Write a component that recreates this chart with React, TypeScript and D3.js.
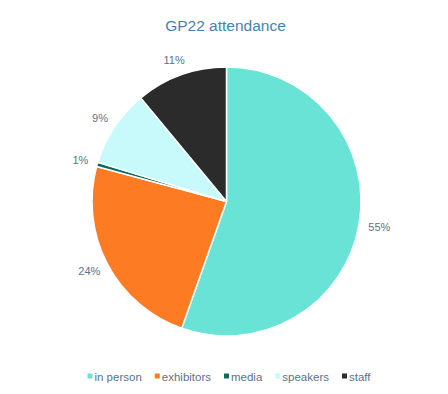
import React, { useEffect, useRef } from "react";
import * as d3 from "d3";

const categories = ["in person", "exhibitors", "media", "speakers", "staff"];
const values = [55.4, 23.8, 0.5, 9.3, 11.0];
const percentLabels = ["55%", "24%", "1%", "9%", "11%"];
const colors = ["#68e3d6", "#fd7b23", "#0b6e5a", "#c8fafc", "#2b2b2b"];
const title = "GP22 attendance";

const W = 448;
const H = 394;

export default function App() {
  const ref = useRef<SVGSVGElement | null>(null);

  useEffect(() => {
    const svg = d3.select(ref.current);
    svg.selectAll("*").remove();

    svg.append("rect").attr("width", W).attr("height", H).attr("fill", "#ffffff");

    svg
      .append("text")
      .attr("x", 225.5)
      .attr("y", 31)
      .attr("text-anchor", "middle")
      .attr("font-family", "Liberation Sans, Arial, sans-serif")
      .attr("font-size", 15.5)
      .attr("fill", "#4a7fb3")
      .text(title);

    const cx = 226.5;
    const cy = 201.5;
    const r = 134.5;

    const data = categories.map((c, i) => ({ c, v: values[i], color: colors[i], lbl: percentLabels[i] }));
    const pie = d3
      .pie<any>()
      .sort(null)
      .value((d: any) => d.v)
      .startAngle(0)
      .endAngle(2 * Math.PI);
    const arcs = pie(data);
    const arc = d3.arc<any>().innerRadius(0).outerRadius(r);

    const g = svg.append("g").attr("transform", `translate(${cx},${cy})`);
    g.selectAll("path")
      .data(arcs)
      .enter()
      .append("path")
      .attr("d", arc as any)
      .attr("fill", (d: any) => d.data.color)
      .attr("stroke", "#ffffff")
      .attr("stroke-width", 1.5)
      .attr("stroke-linejoin", "round");

    const labelR = r + 9.5;
    arcs.forEach((d: any) => {
      const a = (d.startAngle + d.endAngle) / 2;
      const s = Math.sin(a);
      const c = Math.cos(a);
      const t = g
        .append("text")
        .attr("dy", "0.35em")
        .attr("text-anchor", "middle")
        .attr("font-family", "Liberation Sans, Arial, sans-serif")
        .attr("font-size", 11)
        .attr("fill", "#5e7189")
        .text(d.data.lbl);
      const w = (t.node() as SVGTextElement).getComputedTextLength();
      const h = 12;
      const px = s * labelR + (w / 2) * s;
      const py = -c * labelR - (h / 2) * c;
      t.attr("x", px).attr("y", py);
    });

    // legend
    const lg = svg.append("g");
    const items: any[] = [];
    data.forEach((d) => {
      const item = lg.append("g");
      item.append("rect").attr("width", 5).attr("height", 5).attr("fill", d.color).attr("y", -7.5);
      const t = item
        .append("text")
        .attr("x", 7)
        .attr("y", 0)
        .attr("font-family", "Liberation Sans, Arial, sans-serif")
        .attr("font-size", 11.5)
        .attr("fill", "#5e7189")
        .text(d.c);
      const w = (t.node() as SVGTextElement).getComputedTextLength();
      items.push({ item, w: 7 + w });
    });
    const gap = 13;
    const total = items.reduce((s, it) => s + it.w, 0) + gap * (items.length - 1);
    let x = 229 - total / 2;
    items.forEach((it) => {
      it.item.attr("transform", `translate(${x},381)`);
      x += it.w + gap;
    });
  }, []);

  return (
    <svg
      ref={ref}
      width={W}
      height={H}
      style={{ position: "absolute", left: 0, top: 0 }}
    />
  );
}
